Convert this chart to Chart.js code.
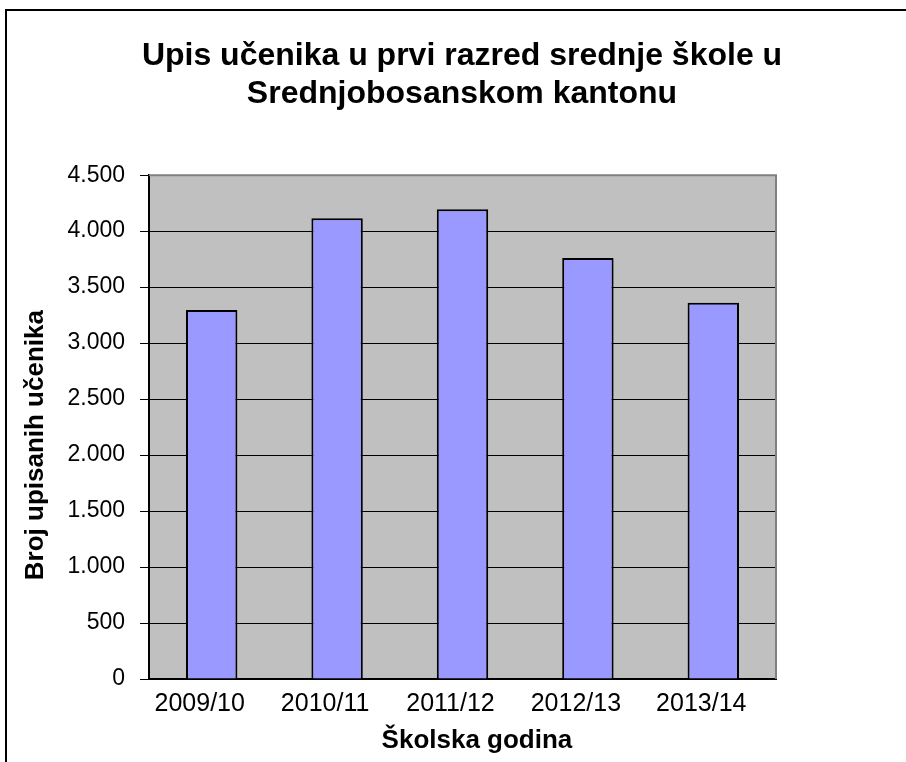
<!DOCTYPE html>
<html>
<head>
<meta charset="utf-8">
<script src="https://cdn.jsdelivr.net/npm/chart.js@4/dist/chart.umd.min.js"></script>
<style>
  html, body { margin: 0; padding: 0; background: #fff; }
  #wrap { width: 906px; height: 762px; }
</style>
</head>
<body>
<div id="wrap"><canvas id="upis-chart" width="906" height="762"></canvas></div>
<script>
const years = ['2009/10', '2010/11', '2011/12', '2012/13', '2013/14'];
const students = [3295, 4115, 4195, 3760, 3360];
const yTicks = [0, 500, 1000, 1500, 2000, 2500, 3000, 3500, 4000, 4500];

const FONT = "'Liberation Sans', Arial, sans-serif";

function fmt(v) {
    return String(v).replace(/\B(?=(\d{3})+(?!\d))/g, '.');
}

// gray plot area + outer frame
const frame = {
    id: 'frame',
    beforeDraw(chart) {
        const { ctx, chartArea: a } = chart;
        ctx.save();
        ctx.fillStyle = '#fff';
        ctx.fillRect(0, 0, chart.width, chart.height);
        ctx.strokeStyle = '#000';
        ctx.lineWidth = 2;
        ctx.strokeRect(6, 10, 1000, 1000);
        ctx.fillStyle = '#c0c0c0';
        ctx.fillRect(a.left, a.top, a.right - a.left, a.bottom - a.top);
        ctx.restore();
    },
    afterDatasetsDraw(chart) {
        const { ctx, chartArea: a } = chart;
        ctx.save();
        ctx.strokeStyle = '#808080';
        ctx.lineWidth = 2;
        ctx.beginPath();
        ctx.moveTo(a.left, a.top);
        ctx.lineTo(a.right, a.top);
        ctx.lineTo(a.right, a.bottom);
        ctx.stroke();
        ctx.restore();
    }
};

function drawChart(labels, data) {
    const ctx = document.getElementById('upis-chart');
    return new Chart(ctx, {
        type: 'bar',
        data: {
            labels,
            datasets: [{
                label: 'Broj upisanih učenika',
                data,
                backgroundColor: '#9999ff',
                borderColor: '#000',
                borderWidth: 2,
                barPercentage: 0.41,
                categoryPercentage: 1
            }]
        },
        options: {
            responsive: false,
            animation: false,
            layout: { padding: { left: 18, right: 0, top: 0, bottom: 0 } },
            plugins: {
                legend: { display: false },
                tooltip: { enabled: false },
                title: {
                    display: true,
                    text: ['Upis učenika u prvi razred srednje škole u', 'Srednjobosanskom kantonu'],
                    color: '#000',
                    font: { family: FONT, size: 32, weight: 'bold', lineHeight: 1.19 },
                    padding: { top: 37, bottom: 62 }
                }
            },
            scales: {
                x: {
                    grid: { display: false, drawTicks: false },
                    border: { color: '#000', width: 2 },
                    ticks: { color: '#000', padding: 10, labelOffset: -12, maxRotation: 0, font: { family: FONT, size: 25 } },
                    title: {
                        display: true, text: '    Školska godina', color: '#000',
                        font: { family: FONT, size: 26, weight: 'bold', lineHeight: 1.2 },
                        padding: { top: 0, bottom: 6 }
                    },
                    afterFit(s) { s.height = 83; }
                },
                y: {
                    min: 0, max: 4500,
                    afterBuildTicks(s) { s.ticks = yTicks.map(v => ({ value: v })); },
                    grid: {
                        color: c => c.tick && c.tick.value === 4500 ? 'rgba(0,0,0,0)' : '#000',
                        lineWidth: 1,
                        tickColor: '#000',
                        tickLength: 9
                    },
                    border: { color: '#000', width: 2 },
                    ticks: { color: '#000', padding: 15, callback: v => fmt(v), font: { family: FONT, size: 23 } },
                    title: {
                        display: true, text: 'Broj upisanih učenika     ', color: '#000',
                        font: { family: FONT, size: 26, weight: 'bold', lineHeight: 1.2 },
                        padding: { top: 2, bottom: 0 }
                    },
                    afterFit(s) { s.width = 131; }
                },
                y2: {
                    position: 'right',
                    display: true,
                    grid: { display: false, drawTicks: false },
                    border: { display: false },
                    ticks: { display: false },
                    afterFit(s) { s.width = 130; }
                }
            }
        },
        plugins: [frame]
    });
}

drawChart(years, students);
</script>
</body>
</html>
